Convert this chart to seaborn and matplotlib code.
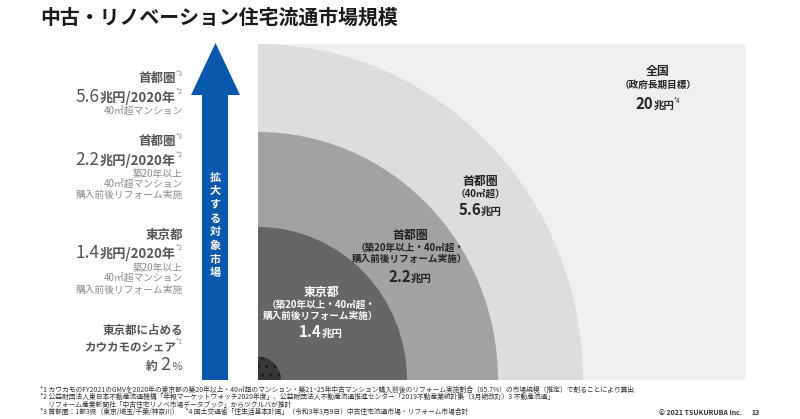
import matplotlib
matplotlib.use("Agg")
import matplotlib.pyplot as plt
import seaborn as sns
from matplotlib.patches import Ellipse, Rectangle, Polygon

# ---------------- data ----------------
regions = ["東京都", "首都圏", "首都圏", "全国"]
conditions = ["（築20年以上・40㎡超・\n購入前後リフォーム実施）",
              "（築20年以上・40㎡超・\n購入前後リフォーム実施）",
              "（40㎡超）",
              "（政府長期目標）"]
values = [1.4, 2.2, 5.6, 20]          # 兆円
value_notes = ["", "", "", "*4"]
share_pct = 2                         # カウカモのシェア 約2%
year = 2020

# ---------------- style ----------------
sns.set_theme(style="white")
plt.rcParams['font.family'] = ['Noto Sans CJK JP', 'DejaVu Sans']
plt.rcParams['hatch.color'] = "#1e1e1e"

W, H = 800, 419
fig = plt.figure(figsize=(W / 100, H / 100), dpi=100)
fig.patch.set_facecolor("white")

# chart area in pixel coordinates
cx0, cy0, cx1, cy1 = 258, 44, 746, 380
ax = fig.add_axes([cx0 / W, (H - cy1) / H, (cx1 - cx0) / W, (cy1 - cy0) / H])
ax.set_xlim(0, cx1 - cx0)
ax.set_ylim(0, cy1 - cy0)
ax.set_axis_off()
ax.add_patch(Rectangle((0, 0), cx1 - cx0, cy1 - cy0, fc="#efefef", ec="none", zorder=0))

ring_rx = [149, 240, 325]
ring_ry = [153, 248, 336]
ring_colors = ["#666666", "#a2a2a2", "#dddddd"]
for rx, ry, c in sorted(zip(ring_rx, ring_ry, ring_colors), reverse=True):
    ax.add_patch(Ellipse((0, 0), 2 * rx, 2 * ry, fc=c, ec="none", zorder=1))
# kaukamo share (small dotted circle)
ax.add_patch(Ellipse((0, 0), 46, 47, fc="#383838", ec="#1e1e1e", lw=0,
                     hatch="..", zorder=2))

# overlay in pixels
ov = fig.add_axes([0, 0, 1, 1], facecolor="none")
ov.set_xlim(0, W)
ov.set_ylim(H, 0)
ov.set_axis_off()

fig.canvas.draw()
renderer = fig.canvas.get_renderer()


def tw(s, size, weight):
    t = ov.text(0, 0, s, fontsize=size, fontweight=weight)
    w = t.get_window_extent(renderer).width
    t.remove()
    return w


def compose(pieces, x, y, ha="left"):
    """pieces: (text, size, weight, color, dy); y = baseline"""
    widths = [tw(p[0], p[1], p[2]) for p in pieces]
    total = sum(widths)
    cur = {"left": x, "right": x - total, "center": x - total / 2}[ha]
    for (s, size, weight, color, dy), w in zip(pieces, widths):
        ov.text(cur, y + dy, s, fontsize=size, fontweight=weight, color=color,
                ha="left", va="baseline")
        cur += w


# title
ov.text(40, 17, "中古・リノベーション住宅流通市場規模", fontsize=14.3, fontweight="bold",
        color="#1a1a1a", ha="left", va="center")

# arrow
ov.add_patch(Polygon([(202, 380), (202, 95), (191, 95), (215.5, 43), (240, 95),
                      (228, 95), (228, 380)], closed=True, fc="#0a58ad", ec="none"))
for i, ch in enumerate("拡大する対象市場"):
    ov.text(215, 177 + i * 13.7, ch, fontsize=8, fontweight="bold", color="white",
            ha="center", va="center")

# left column
D, L = "#555555", "#8a8a8a"
RX = 183
SMALL = 7
compose([("首都圏", 9, "bold", D, 0), ("*3", 5, "normal", L, -6)], RX, 82, "right")
compose([(f"{values[2]}", 12.5, "normal", D, 0), (f"兆円/{year}年", 9.5, "bold", D, 0),
         ("*2", 5, "normal", L, -8)], RX, 102, "right")
ov.text(RX, 112, "40㎡超マンション", fontsize=SMALL, color=L, ha="right", va="center")

compose([("首都圏", 9, "bold", D, 0), ("*3", 5, "normal", L, -6)], RX, 145, "right")
compose([(f"{values[1]}", 12.5, "normal", D, 0), (f"兆円/{year}年", 9.5, "bold", D, 0),
         ("*2", 5, "normal", L, -8)], RX, 165, "right")
for j, s in enumerate(["築20年以上", "40㎡超マンション", "購入前後リフォーム実施"]):
    ov.text(RX, 174 + j * 10.5, s, fontsize=SMALL, color=L, ha="right", va="center")

compose([("東京都", 9, "bold", D, 0)], RX, 239, "right")
compose([(f"{values[0]}", 12.5, "normal", D, 0), (f"兆円/{year}年", 9.5, "bold", D, 0),
         ("*2", 5, "normal", L, -8)], RX, 258, "right")
for j, s in enumerate(["築20年以上", "40㎡超マンション", "購入前後リフォーム実施"]):
    ov.text(RX, 268 + j * 10.8, s, fontsize=SMALL, color=L, ha="right", va="center")

compose([("東京都に占める", 8.3, "bold", D, 0)], RX, 334, "right")
compose([("カウカモのシェア", 8.3, "bold", D, 0), ("*1", 5, "normal", L, -6)], RX, 350, "right")
compose([("約 ", 8.5, "bold", D, 0), (f"{share_pct}", 13, "normal", D, 0),
         (" %", 8, "normal", D, 0)], RX, 370, "right")

# circle labels
label_pos = [(321, 292, 337, "white"), (410, 235, 282, "#222222"),
             (480, 181, 215, "#222222"), (658, 72, 109, "#222222")]
for (x, ytop, ybase, col), reg, cond, v, note in zip(label_pos, regions, conditions,
                                                      values, value_notes):
    ov.text(x, ytop, reg, fontsize=8.6, fontweight="bold", color=col,
            ha="center", va="center")
    lines = cond.split("\n")
    for j, s in enumerate(lines):
        ov.text(x, ytop + 13 + j * 11, s, fontsize=6.9, fontweight="bold", color=col,
                ha="center", va="center")
    vs = f"{v:g}"
    pieces = [(vs, 10.8, "bold", col, 0), ("兆円", 7.5, "bold", col, 0)]
    if note:
        pieces.append((note, 4.5, "normal", col, -6))
    compose(pieces, x, ybase, "center")

# footnotes
notes = [
    "*1 カウカモのFY2021のGMVを2020年の東京都の築20年以上・40㎡超のマンション・築21~25年中古マンション購入前後のリフォーム実施割合（85.7%）の市場規模（推定）で割ることにより算出",
    "*2 公益財団法人東日本不動産流通機構「年報マーケットウォッチ2020年度」、公益財団法人不動産流通推進センター「2019不動産業統計集（3月期改訂）3 不動産流通」",
    "　 リフォーム産業新聞社「中古住宅リノベ市場データブック」からツクルバが推計",
    "*3 首都圏：1都3県（東京/埼玉/千葉/神奈川）　*4 国土交通省「住生活基本計画」（令和3年3月9日）中古住宅流通市場・リフォーム市場合計",
]
for j, s in enumerate(notes):
    ov.text(40, 390 + j * 7.3, s, fontsize=4.9, color="#333333", ha="left", va="center")

ov.text(742, 412, "© 2021 TSUKURUBA Inc.", fontsize=5, fontweight="bold",
        color="#333333", ha="right", va="center")
ov.text(760, 412, "13", fontsize=5, fontweight="bold", color="#333333",
        ha="right", va="center")

fig.savefig("out.png", dpi=100, facecolor="white")
